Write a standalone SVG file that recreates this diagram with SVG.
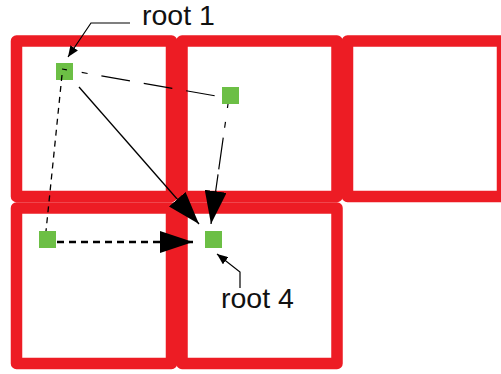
<svg xmlns="http://www.w3.org/2000/svg" width="501" height="374" viewBox="0 0 501 374">
<style>
.cell{fill:#fff;stroke:#ed1c24;stroke-width:11.5;stroke-linejoin:round}
.sq{fill:#6cbf45}
.ln{fill:none;stroke:#000}
.lbl{font-family:"Liberation Sans",Arial,sans-serif;font-size:28.5px;fill:#111}
</style>
<defs>
<marker id="big" viewBox="0 0 33 22" refX="33" refY="11" markerWidth="33" markerHeight="22" markerUnits="userSpaceOnUse" orient="auto">
<path d="M0,0 L33,11 L0,22 z" fill="#000"/>
</marker>
<marker id="small" viewBox="0 0 11 9" refX="11" refY="4.5" markerWidth="11" markerHeight="9" markerUnits="userSpaceOnUse" orient="auto">
<path d="M0,0 L11,4.5 L0,9 z" fill="#000"/>
</marker>
</defs>
<g id="cells">
<rect id="cell1" class="cell" x="16.5" y="41" width="155" height="155.5"/>
<rect id="cell2" class="cell" x="182" y="41" width="155" height="155.5"/>
<rect id="cell3" class="cell" x="347.5" y="41" width="155" height="155.5"/>
<rect id="cell4" class="cell" x="16.5" y="208" width="155" height="155.5"/>
<rect id="cell5" class="cell" x="182" y="208" width="155" height="155.5"/>
</g>
<g id="node1"><rect class="sq" x="56" y="63" width="17" height="17"/></g>
<g id="node2"><rect class="sq" x="222" y="87" width="17" height="17"/></g>
<g id="node3"><rect class="sq" x="39" y="231" width="17" height="17"/></g>
<g id="node4"><rect class="sq" x="205" y="231" width="17" height="17"/></g>
<g id="connectors">
<line class="ln" x1="79" y1="87" x2="199" y2="224" stroke-width="1.3" marker-end="url(#big)"/>
<line class="ln" x1="62" y1="69" x2="222" y2="97" stroke-width="1.2" stroke-dasharray="5 15 6 14 29 14 29 14 29 14 29 20"/>
<line class="ln" x1="228" y1="104" x2="211" y2="224" stroke-width="1.2" stroke-dasharray="4 14 6 10 32 5 60" marker-end="url(#big)"/>
<line class="ln" x1="62" y1="75" x2="46" y2="231" stroke-width="1.3" stroke-dasharray="6 5"/>
<line class="ln" x1="57" y1="242" x2="193" y2="242" stroke-width="2.5" stroke-dasharray="7 5" marker-end="url(#big)"/>
<polyline class="ln" points="130,23 91,23 68,57" stroke-width="1.2" marker-end="url(#small)"/>
<polyline class="ln" points="240,288 240,272 217,254" stroke-width="1.2" marker-end="url(#small)"/>
</g>
<g id="labels">
<text class="lbl" x="142" y="25">root 1</text>
<text class="lbl" x="221" y="308">root 4</text>
</g>
</svg>
